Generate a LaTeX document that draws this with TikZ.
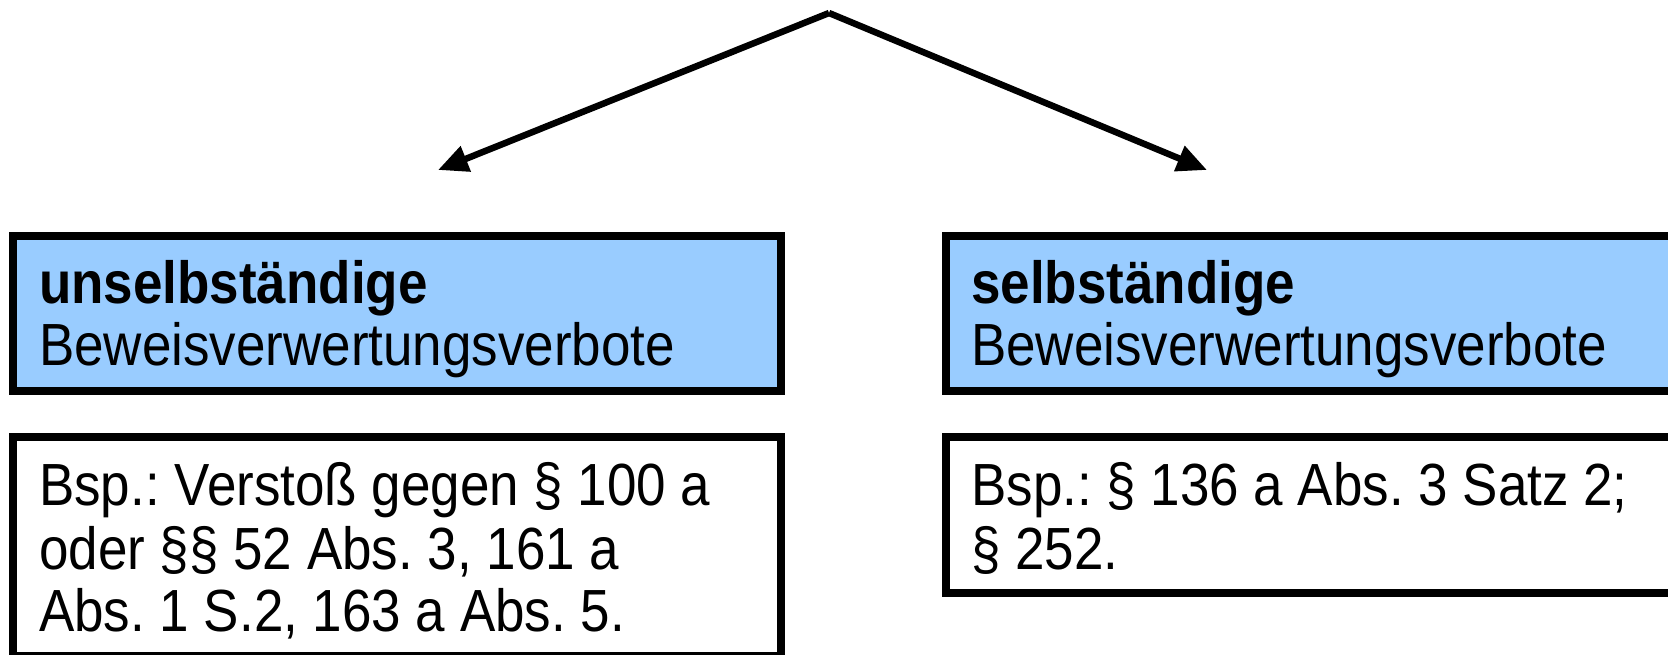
\documentclass[tikz,border=0pt]{standalone}
\usepackage{fontspec}
\setmainfont[FakeStretch=0.89]{Liberation Sans}
\usetikzlibrary{arrows.meta}
\definecolor{boxblue}{RGB}{153,204,255}
\frenchspacing
\tikzset{
  frame/.style={draw=black, line width=8pt, anchor=north west, inner sep=0pt, outer sep=0pt},
  bluebox/.style={frame, fill=boxblue},
  whitebox/.style={frame, fill=white},
  txt/.style={anchor=base west, inner sep=0pt, font=\fontsize{59.5}{62}\selectfont\frenchspacing},
  btxt/.style={txt, font=\fontsize{59.5}{62}\selectfont\bfseries},
  conn/.style={line width=6.5pt, -{Triangle[length=30pt,width=26pt]}}
}
\begin{document}
\begin{tikzpicture}[x=1pt,y=-1pt]
\useasboundingbox (0,0) rectangle (1668,654);
\begin{scope}
\clip (0,0) rectangle (1668,654);
\node[bluebox, minimum width=768pt, minimum height=155pt] (lb) at (13,236) {};
\node[whitebox, minimum width=768pt, minimum height=219pt] (lw) at (13,437) {};
\node[bluebox, minimum width=726pt, minimum height=155pt] (rb) at (946,236) {};
\node[whitebox, minimum width=726pt, minimum height=155.5pt] (rw) at (946,437) {};
\end{scope}
\coordinate (top) at (829,13);
\coordinate (ltip) at (438,170);
\coordinate (rtip) at (1207,170);
\draw[conn] (top) -- (ltip);
\draw[conn] (top) -- (rtip);
\node[btxt] (lb1) at (39,303) {unselbständige};
\node[txt] (lb2) at (39,365) {Beweisverwertungsverbote};
\node[txt] (lw1) at (39,505) {Bsp.: Verstoß gegen § 100 a};
\node[txt] (lw2) at (39,569) {oder §§ 52 Abs. 3, 161 a};
\node[txt] (lw3) at (39,631) {Abs. 1 S.2, 163 a Abs. 5.};
\node[btxt] (rb1) at (971,303) {selbständige};
\node[txt] (rb2) at (971,365) {Beweisverwertungsverbote};
\node[txt] (rw1) at (971,505) {Bsp.: § 136 a Abs. 3 Satz 2;};
\node[txt] (rw2) at (971,569) {§ 252.};
\end{tikzpicture}
\end{document}
